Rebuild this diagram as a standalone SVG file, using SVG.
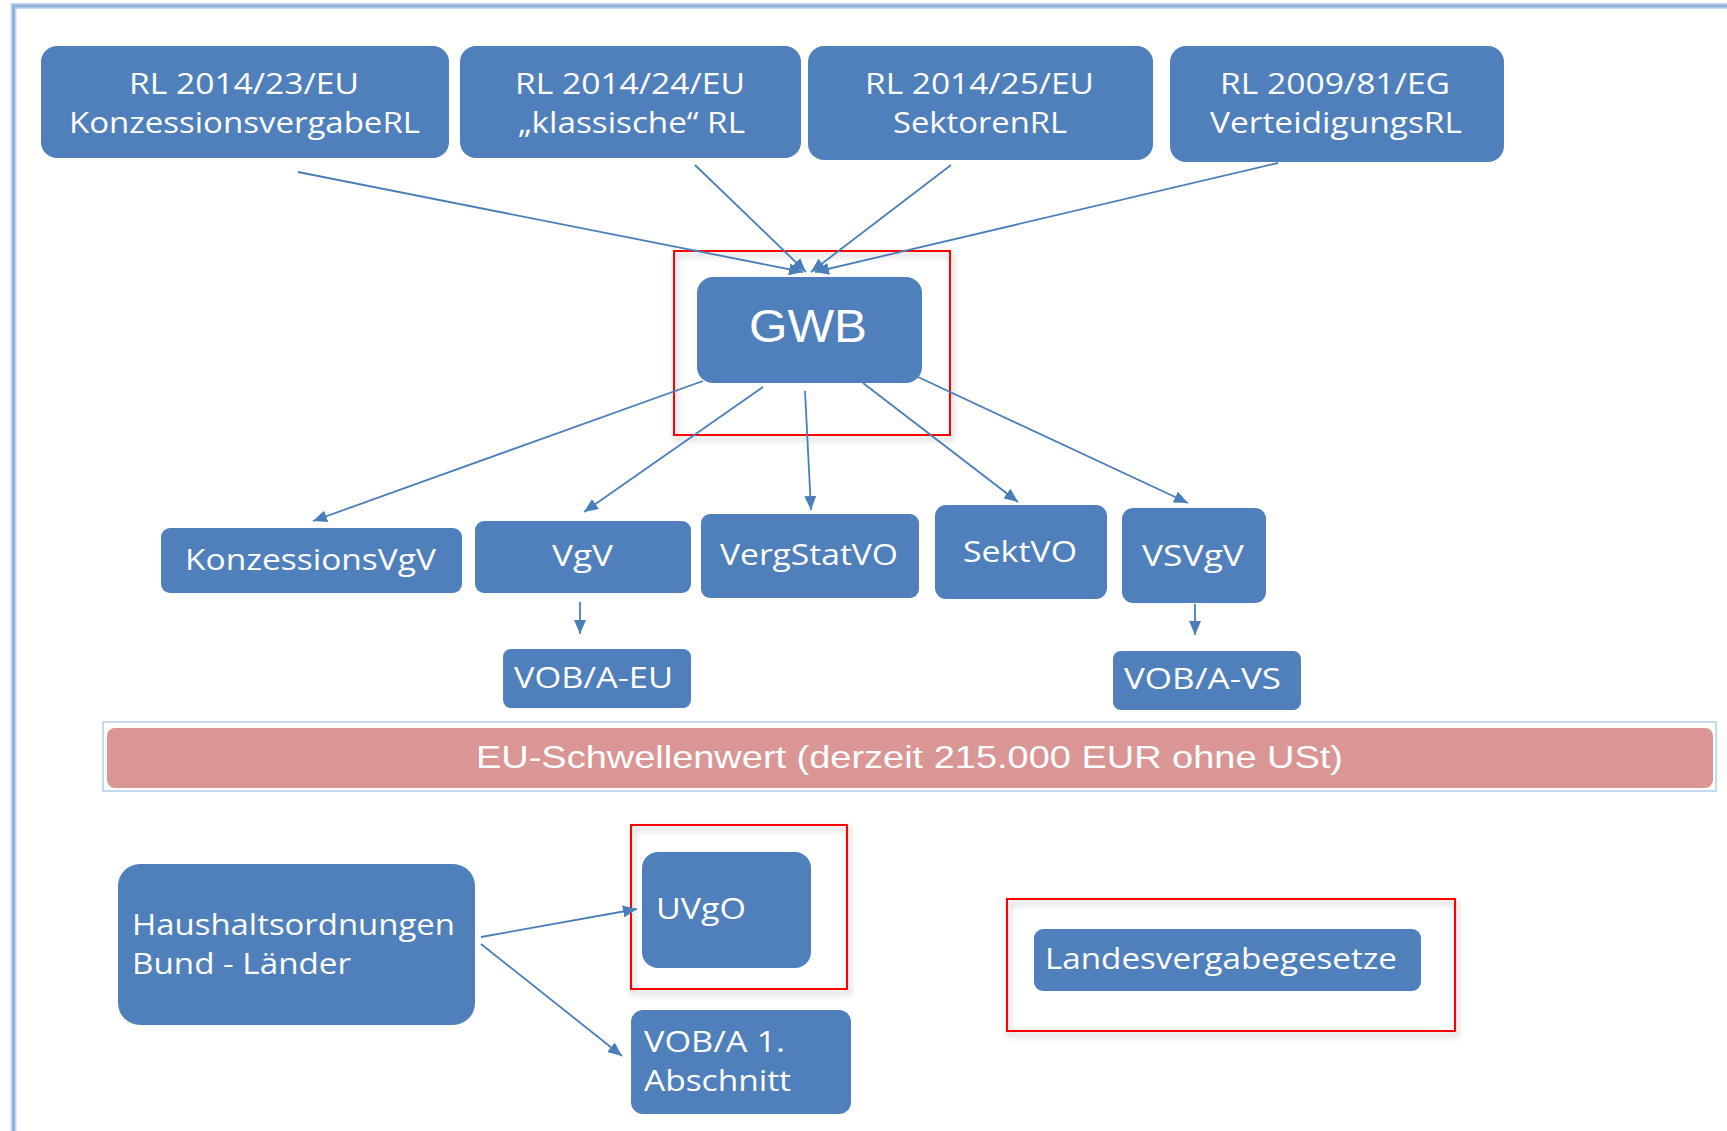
<svg xmlns="http://www.w3.org/2000/svg" width="1727" height="1131" viewBox="0 0 1727 1131">
<defs>
<style>
.node{fill:#4f80bc;}
.t{fill:#ffffff;font-family:"Open Sans","Noto Sans",sans-serif;font-size:30px;}
.a{fill:#ffffff;font-family:"Liberation Sans",Arial,sans-serif;}
.conn line{stroke:#4a7ebb;stroke-width:1.8;fill:none;marker-end:url(#arr);}
.hl{fill:none;stroke:#ff0000;stroke-width:2;filter:url(#sh);}
</style>
<marker id="arr" viewBox="0 0 14 12" refX="14" refY="6" markerWidth="14" markerHeight="12" markerUnits="userSpaceOnUse" orient="auto">
<path d="M0,0 L14,6 L0,12 Z" fill="#4a7ebb"/>
</marker>
<filter id="sh" x="-10%" y="-10%" width="120%" height="130%">
<feDropShadow dx="2" dy="4" stdDeviation="3" flood-color="#000000" flood-opacity="0.3"/>
</filter>
</defs>
<rect width="1727" height="1131" fill="#ffffff"/>
<g id="frame">
<path d="M13.5,1131 L13.5,6 L1727,6" fill="none" stroke="#c6d9f1" stroke-width="6"/>
<path d="M13.5,1131 L13.5,6 L1727,6" fill="none" stroke="#8db3e2" stroke-width="3"/>
</g>
<g id="highlights">
<rect class="hl" x="674" y="251" width="276" height="184"/>
<rect class="hl" x="631" y="825" width="216" height="164"/>
<rect class="hl" x="1007" y="899" width="448" height="132"/>
</g>
<g id="connectors" class="conn">
<line x1="298" y1="172" x2="803" y2="272"/>
<line x1="695" y1="165" x2="806" y2="272"/>
<line x1="951" y1="165" x2="811" y2="272"/>
<line x1="1278" y1="163" x2="815" y2="272"/>
<line x1="703" y1="381" x2="313" y2="521"/>
<line x1="763" y1="387" x2="584" y2="512"/>
<line x1="805" y1="391" x2="811" y2="510"/>
<line x1="863" y1="383" x2="1018" y2="502"/>
<line x1="918" y1="377" x2="1188" y2="503"/>
<line x1="580" y1="602" x2="580" y2="634"/>
<line x1="1195" y1="604" x2="1195" y2="635"/>
<line x1="481" y1="937" x2="637" y2="909"/>
<line x1="481" y1="944" x2="622" y2="1056"/>
</g>
<g id="rl23">
<rect class="node" x="41" y="46" width="408" height="112" rx="16"/>
<text class="t" x="129" y="94" textLength="230" lengthAdjust="spacingAndGlyphs">RL 2014/23/EU</text>
<text class="t" x="69" y="133" textLength="351" lengthAdjust="spacingAndGlyphs">KonzessionsvergabeRL</text>
</g>
<g id="rl24">
<rect class="node" x="460" y="46" width="341" height="112" rx="16"/>
<text class="t" x="515" y="94" textLength="230" lengthAdjust="spacingAndGlyphs">RL 2014/24/EU</text>
<text class="t" x="518" y="133" textLength="227" lengthAdjust="spacingAndGlyphs">„klassische“ RL</text>
</g>
<g id="rl25">
<rect class="node" x="808" y="46" width="345" height="114" rx="16"/>
<text class="t" x="865" y="94" textLength="229" lengthAdjust="spacingAndGlyphs">RL 2014/25/EU</text>
<text class="t" x="893" y="133" textLength="174" lengthAdjust="spacingAndGlyphs">SektorenRL</text>
</g>
<g id="rl09">
<rect class="node" x="1170" y="46" width="334" height="116" rx="16"/>
<text class="t" x="1220" y="94" textLength="230" lengthAdjust="spacingAndGlyphs">RL 2009/81/EG</text>
<text class="t" x="1210" y="133" textLength="252" lengthAdjust="spacingAndGlyphs">VerteidigungsRL</text>
</g>
<g id="gwb">
<rect class="node" x="697" y="277" width="225" height="106" rx="16"/>
<text class="a" x="749" y="342" font-size="46" textLength="118" lengthAdjust="spacingAndGlyphs">GWB</text>
</g>
<g id="konzvgv">
<rect class="node" x="161" y="528" width="301" height="65" rx="9"/>
<text class="t" x="185" y="570" textLength="251" lengthAdjust="spacingAndGlyphs">KonzessionsVgV</text>
</g>
<g id="vgv">
<rect class="node" x="475" y="521" width="216" height="72" rx="9"/>
<text class="t" x="552" y="566" textLength="61" lengthAdjust="spacingAndGlyphs">VgV</text>
</g>
<g id="vergstatvo">
<rect class="node" x="701" y="514" width="218" height="84" rx="9"/>
<text class="t" x="720" y="565" textLength="178" lengthAdjust="spacingAndGlyphs">VergStatVO</text>
</g>
<g id="sektvo">
<rect class="node" x="935" y="505" width="172" height="94" rx="11"/>
<text class="t" x="963" y="562" textLength="114" lengthAdjust="spacingAndGlyphs">SektVO</text>
</g>
<g id="vsvgv">
<rect class="node" x="1122" y="508" width="144" height="95" rx="11"/>
<text class="t" x="1142" y="566" textLength="102" lengthAdjust="spacingAndGlyphs">VSVgV</text>
</g>
<g id="vobaeu">
<rect class="node" x="503" y="649" width="188" height="59" rx="8"/>
<text class="t" x="514" y="688" textLength="159" lengthAdjust="spacingAndGlyphs">VOB/A-EU</text>
</g>
<g id="vobavs">
<rect class="node" x="1113" y="651" width="188" height="59" rx="8"/>
<text class="t" x="1124" y="689" textLength="157" lengthAdjust="spacingAndGlyphs">VOB/A-VS</text>
</g>
<g id="schwelle">
<rect x="103" y="722" width="1613" height="69" fill="none" stroke="#c6d9f1" stroke-width="2"/>
<rect x="107" y="728" width="1606" height="60" rx="8" fill="#d99694"/>
<text class="a" x="476" y="768" font-size="32" textLength="867" lengthAdjust="spacingAndGlyphs">EU-Schwellenwert (derzeit 215.000 EUR ohne USt)</text>
</g>
<g id="haushalt">
<rect class="node" x="118" y="864" width="357" height="161" rx="22"/>
<text class="t" x="132" y="935" textLength="323" lengthAdjust="spacingAndGlyphs">Haushaltsordnungen</text>
<text class="t" x="132" y="974" textLength="219" lengthAdjust="spacingAndGlyphs">Bund - Länder</text>
</g>
<g id="uvgo">
<rect class="node" x="642" y="852" width="169" height="116" rx="16"/>
<text class="t" x="656" y="919" textLength="90" lengthAdjust="spacingAndGlyphs">UVgO</text>
</g>
<g id="voba1">
<rect class="node" x="631" y="1010" width="220" height="104" rx="12"/>
<text class="t" x="644" y="1052" textLength="141" lengthAdjust="spacingAndGlyphs">VOB/A 1.</text>
<text class="t" x="644" y="1091" textLength="147" lengthAdjust="spacingAndGlyphs">Abschnitt</text>
</g>
<g id="landes">
<rect class="node" x="1034" y="929" width="387" height="62" rx="9"/>
<text class="t" x="1045" y="969" textLength="352" lengthAdjust="spacingAndGlyphs">Landesvergabegesetze</text>
</g>
</svg>
